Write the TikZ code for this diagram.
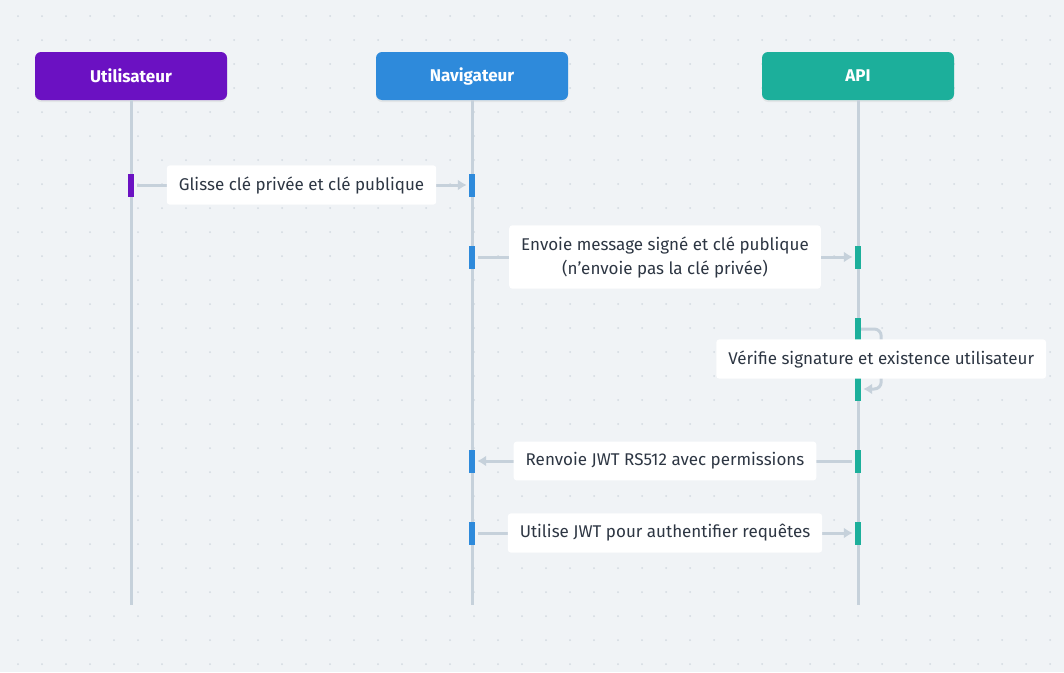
\documentclass[tikz,border=0pt]{standalone}
\usepackage{fontspec}
\setmainfont{Fira Sans}
\usepackage{tikz}
\usetikzlibrary{arrows.meta,shadows}

\definecolor{fond}{HTML}{F0F3F6}
\definecolor{point}{HTML}{D3DAE1}
\definecolor{ligne}{HTML}{C6D1DB}
\definecolor{violet}{HTML}{6B11C2}
\definecolor{bleu}{HTML}{2E8ADB}
\definecolor{vert}{HTML}{1CAF9B}
\definecolor{texte}{HTML}{2D3643}

\tikzset{
	acteur/.style={rounded corners=6pt, minimum width=192pt, minimum height=48pt, text=white,
		font=\bfseries\fontsize{17}{20}\selectfont,
		drop shadow={opacity=0.12, shadow xshift=0pt, shadow yshift=-2pt}},
	activ/.style={minimum width=6pt, minimum height=23pt, inner sep=0pt},
	etiq/.style={fill=white, rounded corners=3pt, text=texte, align=center, inner xsep=12pt, inner ysep=11pt,
		font=\fontsize{17}{24}\selectfont},
	msg/.style={draw=ligne, line width=3pt, shorten <=3pt, shorten >=2pt, -{Latex[length=9pt,width=11pt]}}
}

\begin{document}
\begin{tikzpicture}[x=1pt,y=-1pt]
	\fill[fond] (0,0) rectangle (1064,672);
	\useasboundingbox (0,0) rectangle (1064,672);
	\foreach \i in {18,42,...,1062} \foreach \j in {16,40,...,670} \fill[point] (\i,\j) circle (1pt);

	% acteurs
	\node[acteur, fill=violet] (util) at (131,76) {Utilisateur};
	\node[acteur, fill=bleu] (nav) at (472,76) {Navigateur};
	\node[acteur, fill=vert] (api) at (858,76) {API};

	% lignes de vie
	\coordinate (utilfin) at (131,605);
	\coordinate (navfin) at (472,605);
	\coordinate (apifin) at (858,605);
	\draw[ligne, line width=3pt] (util.south) -- (utilfin);
	\draw[ligne, line width=3pt] (nav.south) -- (navfin);
	\draw[ligne, line width=3pt] (api.south) -- (apifin);

	% activations
	\node[activ, fill=violet] (u1) at (131,185) {};
	\node[activ, fill=bleu] (n1) at (472,185) {};
	\node[activ, fill=bleu] (n2) at (472,257) {};
	\node[activ, fill=vert] (a2) at (858,257) {};
	\node[activ, fill=vert] (a3) at (858,329) {};
	\node[activ, fill=vert] (a4) at (858,389) {};
	\node[activ, fill=bleu] (n5) at (472,461) {};
	\node[activ, fill=vert] (a5) at (858,461) {};
	\node[activ, fill=bleu] (n6) at (472,533) {};
	\node[activ, fill=vert] (a6) at (858,533) {};

	% messages
	\draw[msg] (u1) -- node[etiq] {Glisse clé privée et clé publique} (n1);
	\draw[msg] (n2) -- node[etiq] {Envoie message signé et clé publique\\(n'envoie pas la clé privée)} (a2);
	\draw[msg, rounded corners=7pt, shorten <=0pt] (a3.east) -- ++(20,0) |- node[etiq, pos=0.25] {Vérifie signature et existence utilisateur} (a4.east);
	\draw[msg] (a5) -- node[etiq] {Renvoie JWT RS512 avec permissions} (n5);
	\draw[msg] (n6) -- node[etiq] {Utilise JWT pour authentifier requêtes} (a6);
\end{tikzpicture}
\end{document}
